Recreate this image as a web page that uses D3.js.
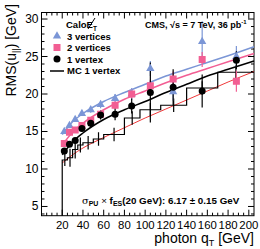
<!DOCTYPE html>
<html><head><meta charset="utf-8">
<script src="https://cdn.jsdelivr.net/npm/d3@7"></script>
<style>body{margin:0;background:#fff}</style></head>
<body><svg id="c" width="260" height="249"></svg>
<script>
// ---- data ----
const xTicks = [20,40,60,80,100,120,140,160,180,200];
const yTicks = [5,10,15,20,25,30];
const qT = [22,27,32.5,39,47.5,57,71,87,105,127,155,188];
const v3 = [15.0,15.8,16.6,17.4,17.9,18.6,19.4,20.0,23.4,20.3,27.0,25.0];
const e3 = [0.3,0.3,0.3,0.35,0.4,0.5,0.6,0.8,1.0,1.2,2.7,1.4];
const v2 = [13.4,14.9,15.2,15.8,16.5,17.3,18.5,20.0,21.1,22.0,24.6,21.7];
const e2 = [0.25,0.25,0.3,0.3,0.35,0.4,0.5,0.6,0.8,1.0,1.0,1.4];
const v1 = [12.4,13.3,13.8,15.4,16.1,17.2,17.3,18.4,20.2,20.9,20.4,24.5];
const e1 = [0.3,0.3,0.35,0.4,0.5,0.6,0.8,1.0,4.0,2.4,2.2,1.2];
// MC 1 vertex histogram: bin edges and contents, errors
const mcEdges = [20,25,30,35,40,50,60,80,95,115,140,170,205];
const mcVals  = [11.2,11.5,12.6,13.2,13.5,14.0,14.6,16.8,17.9,18.5,20.8,22.9];
const mcErr   = [0.8,1.2,1.2,1.0,0.9,0.9,0.9,0.9,0.9,0.9,0.9,0.9];
// fitted curves (sampled)
const fitX = [20,30,40,60,80,100,120,140,160,180,205];
const fit3 = [14.6,16.3,17.4,19.0,20.2,21.3,22.4,23.3,24.2,25.1,26.3];
const fit2 = [13.2,14.9,16.1,17.9,19.3,20.4,21.5,22.5,23.4,24.3,25.4];
const fit1 = [11.9,13.6,14.8,16.6,17.9,19.0,20.2,21.3,22.4,23.3,24.4];
const fitR = [10.8,11.9,12.8,14.2,15.5,16.8,18.0,19.2,20.4,21.6,23.0];

// ---- layout ----
const svg = d3.select('#c');
const L=41.5, R=254, T=12.5, B=215.7;
const x = d3.scaleLinear().domain([0,205]).range([L,R]);
const y = d3.scaleLinear().domain([3.77,30.87]).range([B,T]);
const font = "'Liberation Sans', Arial, sans-serif";
const cBlue = '#7b96d6', cPink = '#f25e93', cRed = '#f0393a';

// frame & ticks (ROOT style, inside)
const g = svg.append('g');
g.append('rect').attr('x',L).attr('y',T).attr('width',R-L).attr('height',B-T)
  .attr('fill','none').attr('stroke','#000').attr('stroke-width',1);
d3.range(5,205,5).forEach(v=>{
  const len = v%20===0?6:3;
  g.append('line').attr('x1',x(v)).attr('x2',x(v)).attr('y1',B).attr('y2',B-len).attr('stroke','#000');
  g.append('line').attr('x1',x(v)).attr('x2',x(v)).attr('y1',T).attr('y2',T+len).attr('stroke','#000');
});
d3.range(4,31,1).forEach(v=>{
  const len = v%5===0?6:3;
  g.append('line').attr('y1',y(v)).attr('y2',y(v)).attr('x1',L).attr('x2',L+len).attr('stroke','#000');
  g.append('line').attr('y1',y(v)).attr('y2',y(v)).attr('x1',R).attr('x2',R-len).attr('stroke','#000');
});
xTicks.forEach(v=>{
  g.append('text').attr('x',x(v)).attr('y',B+13).attr('text-anchor','middle')
   .attr('font-family',font).attr('font-size',11.4).text(v);
});
yTicks.forEach(v=>{
  g.append('text').attr('x',L-3).attr('y',y(v)+4).attr('text-anchor','end')
   .attr('font-family',font).attr('font-size',12).text(v);
});
// axis titles
const yt = g.append('text').attr('transform',`translate(16,4) rotate(-90)`).attr('text-anchor','end')
  .attr('font-family',font).attr('font-size',14);
yt.append('tspan').text('RMS(u');
yt.append('tspan').attr('font-size',9).attr('dy',3).text('||');
yt.append('tspan').attr('dy',-3).text(') [GeV]');
const xt = g.append('text').attr('x',R).attr('y',243).attr('text-anchor','end')
  .attr('font-family',font).attr('font-size',14);
xt.append('tspan').text('photon q');
xt.append('tspan').attr('font-size',9).attr('dy',3).text('T');
xt.append('tspan').attr('dy',-3).text(' [GeV]');

// curves
const line = d3.line().x(d=>x(d[0])).y(d=>y(d[1])).curve(d3.curveMonotoneX);
const curve = (vals,col,w)=> g.append('path').attr('d',line(fitX.map((v,i)=>[v,vals[i]])))
  .attr('fill','none').attr('stroke',col).attr('stroke-width',w);
curve(fitR,cRed,1);
curve(fit3,cBlue,1.5);
curve(fit2,cPink,1.5);
curve(fit1,'#000',1.5);

// MC histogram
const step = [];
mcVals.forEach((v,i)=>{ step.push([mcEdges[i],v]); step.push([mcEdges[i+1],v]); });
const sp = [[mcEdges[0],3.77],...step];
g.append('path').attr('d',d3.line().x(d=>x(d[0])).y(d=>y(d[1]))(sp))
  .attr('fill','none').attr('stroke','#000').attr('stroke-width',1.2);
mcVals.forEach((v,i)=>{
  const c=(mcEdges[i]+mcEdges[i+1])/2;
  g.append('line').attr('x1',x(c)).attr('x2',x(c)).attr('y1',y(v-mcErr[i])).attr('y2',y(v+mcErr[i]))
    .attr('stroke','#000').attr('stroke-width',1.2);
});

// points
function errs(vals,er,col){
  vals.forEach((v,i)=>g.append('line').attr('x1',x(qT[i])).attr('x2',x(qT[i]))
    .attr('y1',y(v-er[i])).attr('y2',y(v+er[i])).attr('stroke',col).attr('stroke-width',1.2));
}
errs(v3,e3,cBlue); errs(v2,e2,cPink); errs(v1,e1,'#000');
const tri = d3.symbol().type(d3.symbolTriangle).size(30);
v3.forEach((v,i)=>g.append('path').attr('d',tri()).attr('transform',`translate(${x(qT[i])},${y(v)})`).attr('fill',cBlue));
v2.forEach((v,i)=>g.append('rect').attr('x',x(qT[i])-3.5).attr('y',y(v)-3.5).attr('width',7).attr('height',7).attr('fill',cPink));
v1.forEach((v,i)=>g.append('circle').attr('cx',x(qT[i])).attr('cy',y(v)).attr('r',3.5).attr('fill','#000'));

// legend
const lg = svg.append('g').attr('font-family',font).attr('font-weight','bold').attr('font-size',9.5);
const calo = lg.append('text').attr('x',66).attr('y',28);
calo.append('tspan').text('Calo');
calo.append('tspan').text('E');
calo.append('tspan').attr('font-size',6.5).attr('dy',2.5).text('T');
lg.append('line').attr('x1',88).attr('x2',95).attr('y1',29).attr('y2',18).attr('stroke','#000').attr('stroke-width',1);
lg.append('path').attr('d',tri()).attr('transform','translate(57,36)').attr('fill',cBlue);
lg.append('text').attr('x',67).attr('y',40).text('3 vertices');
lg.append('rect').attr('x',53.5).attr('y',44).attr('width',7).attr('height',7).attr('fill',cPink);
lg.append('text').attr('x',67).attr('y',51).text('2 vertices');
lg.append('circle').attr('cx',57).attr('cy',59).attr('r',3.5).attr('fill','#000');
lg.append('text').attr('x',67).attr('y',63).text('1 vertex');
lg.append('line').attr('x1',50).attr('x2',64).attr('y1',71).attr('y2',71).attr('stroke','#000').attr('stroke-width',1.5);
lg.append('text').attr('x',67).attr('y',74).text('MC 1 vertex');

const cms = lg.append('text').attr('x',145).attr('y',28).attr('font-size',9);
cms.append('tspan').text('CMS, ');
cms.append('tspan').text('\u221As = 7 TeV, 36 pb');
cms.append('tspan').attr('font-size',6).attr('dy',-4).text('-1');

const bt = lg.append('text').attr('x',82).attr('y',204).attr('font-size',9.8);
bt.append('tspan').attr('font-family','DejaVu Serif, serif').attr('font-weight','normal').text('\u03C3');
bt.append('tspan').attr('font-size',7).attr('dy',2).text('PU');
bt.append('tspan').attr('dy',-2).attr('font-weight','normal').text(' \u00D7 ');
bt.append('tspan').text('f');
bt.append('tspan').attr('font-size',7).attr('dy',2).text('ES');
bt.append('tspan').attr('dy',-2).text('(20 GeV): 6.17 \u00B1 0.15 GeV');
</script></body></html>
